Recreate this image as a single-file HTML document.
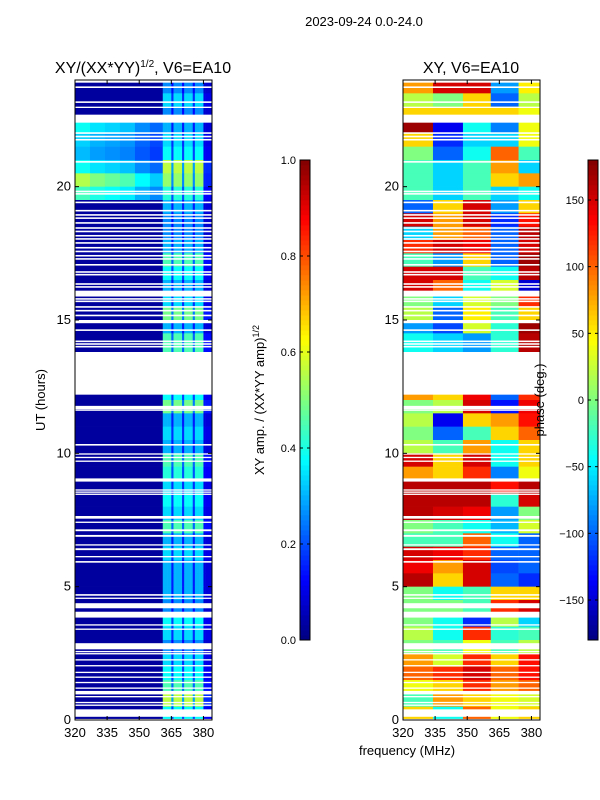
<!DOCTYPE html>
<html><head><meta charset="utf-8"><style>
html,body{margin:0;padding:0;background:#fff;}
svg{display:block;font-family:"Liberation Sans","DejaVu Sans",sans-serif;}
</style></head><body>
<svg id="fig" width="600" height="800" viewBox="0 0 600 800" xmlns="http://www.w3.org/2000/svg">
<text x="364" y="26" font-size="13" text-anchor="middle">2023-09-24 0.0-24.0</text>
<text x="143" y="73" font-size="16" text-anchor="middle">XY/(XX*YY)<tspan font-size="10" dy="-6">1/2</tspan><tspan dy="6">, V6=EA10</tspan></text>
<text x="471" y="73" font-size="16" text-anchor="middle">XY, V6=EA10</text>
<g id="left"></g>
<g id="right"></g>
<g id="cb1"></g>
<g id="cb2"></g>
<g id="axes"></g>
<text transform="translate(45,400) rotate(-90)" font-size="13" text-anchor="middle">UT (hours)</text>
<text x="407" y="755" font-size="13" text-anchor="middle">frequency (MHz)</text>
<text transform="translate(264,400) rotate(-90)" font-size="13" text-anchor="middle">XY amp. / (XX*YY amp)<tspan font-size="9" dy="-5">1/2</tspan></text>
<text transform="translate(544,400) rotate(-90)" font-size="13" text-anchor="middle">phase (deg.)</text>
</svg>
<script>
// ---- data (rows listed from top: 24h downward, 0.5 h each) ----
const rowHours = 0.5;
const lowBandEdges = [320,327,334,341,348,355,361];
const lowShape = [1.1,1.0,0.95,0.9,0.75,0.65];
const lowRow = [0.03,0.03,0.03,0.35,0.3,0.28,0.35,0.5,0.4,0.03,0.03,0.03,0.03,0.03,0.03,0.03,0.03,0.03,0.03,0.03,0.03,0.03,0.03,0.03,
0.03,0.03,0.03,0.03,0.03,0.03,0.03,0.03,0.03,0.03,0.03,0.03,0.03,0.03,0.03,0.03,0.03,0.03,0.03,0.03,0.03,0.03,0.03,0.03];
const hiRow = [0.26,0.34,0.26,0.3,0.34,0.38,0.56,0.52,0.41,0.3,0.26,0.26,0.3,0.45,0.38,0.3,0.34,0.49,0.3,0.45,0.45,0,0,0.38,
0.49,0.3,0.34,0.3,0.45,0.41,0.34,0.38,0.34,0.45,0.3,0.34,0.3,0.3,0.3,0.26,0.38,0.34,0.26,0.34,0.38,0.45,0.56,0.38];
const hiChanStart = 361;
const hiChanWeight = [1,1,1,1,0.5,1,1,1,1,0.5,1,1,1,1,0.5,1,1,1,1,0.3,0.3,0.3,0.3];
const phaseBandEdges = [320,334,348,361,374,384];
const phaseRows = [
[80,150,150,-80,50],[20,0,60,-100,20],[60,60,60,60,40],[170,-140,-40,-90,40],[60,-120,-60,-60,40],[0,-100,-40,100,-20],
[-20,-60,-20,80,-60],[-20,-60,-20,60,80],[-20,-60,-20,-60,-40],[-100,60,150,-80,60],[150,80,150,-120,130],[-60,80,100,-100,160],
[120,150,140,-100,150],[-20,-80,60,-100,170],[150,150,-20,-40,160],[150,100,-40,30,-150],[0,-60,30,0,120],[20,-100,50,-20,60],
[-80,-110,30,-30,170],[-40,-60,-80,-30,160],[-40,-60,-80,-30,160],[0,0,0,0,0],[0,0,0,0,0],[80,60,140,-100,120],
[0,20,150,-130,140],[20,-140,60,80,130],[0,-100,-20,60,100],[20,-20,80,-40,60],[150,60,150,-40,60],[80,60,120,-90,40],
[160,160,160,130,160],[160,160,160,-30,150],[160,150,140,-80,0],[0,-20,-40,-70,30],[-20,-20,100,-40,-100],[150,140,120,-100,-100],
[140,80,150,-110,-100],[160,60,150,-100,-120],[0,-40,-20,60,60],[0,0,-20,120,150],[0,-40,-120,20,-60],[20,-40,120,-30,-20],
[0,-20,40,-20,20],[80,30,120,60,130],[100,120,150,100,130],[40,60,120,80,100],[-20,80,60,40,30],[60,-40,100,40,60]];
const flagStart = [23.9,23.7,23.14,22.95,22.4,21.98,21.85,21.73,20.9,19.79,19.7,19.38,19.07,18.91,18.79,18.61,18.42,18.29,18.13,18.01,17.86,17.68,17.54,17.38,17.26,17.04,16.77,16.67,16.32,16.21,15.88,15.76,15.67,15.46,15.32,15.14,14.88,14.59,14.17,14.07,13.97,12.2,
11.65,11.6,10.29,9.95,9.82,9.68,8.94,8.6,8.52,8.44,7.55,7.39,7.08,6.87,6.54,6.37,6.1,5.9,4.66,4.54,4.19,3.84,3.54,3.38,2.65,2.54,2.46,2.23,2.01,1.76,1.58,1.38,1.17,0.96,0.85,0.63,0.53,0.12,0];
const flagEnd = [24,23.76,23.2,23.0,22.7,22.04,21.91,21.79,20.96,19.85,19.76,19.44,19.13,18.97,18.85,18.67,18.48,18.35,18.19,18.07,17.92,17.74,17.6,17.44,17.32,17.1,16.83,16.73,16.38,16.27,16.1,15.82,15.73,15.52,15.38,15.2,15.0,14.65,14.23,14.13,14.03,13.8,
11.78,11.64,10.35,10.0,9.87,9.73,9.06,8.65,8.57,8.49,7.65,7.44,7.15,6.94,6.59,6.44,6.15,5.96,4.72,4.59,4.38,4.06,3.59,3.43,2.88,2.59,2.51,2.28,2.06,1.81,1.63,1.43,1.22,1.09,0.9,0.68,0.58,0.4,0.04];
const yTicks = [0,5,10,15,20];
const xTicks = [320,335,350,365,380];
const cb1Ticks = [0.0,0.2,0.4,0.6,0.8,1.0];
const cb1Labels = ["0.0","0.2","0.4","0.6","0.8","1.0"];
const cb2Ticks = [-150,-100,-50,0,50,100,150];
const cb2Labels = ["\u2212150","\u2212100","\u221250","0","50","100","150"];

// ---- helpers ----
const NS = "http://www.w3.org/2000/svg";
const Y0 = 720, Y1 = 80, F0 = 320, F1 = 384;
const panels = [{x0:75,x1:212,id:"left"},{x0:403,x1:540,id:"right"}];
function yOf(t){ return Y0 - (t/24)*(Y0-Y1); }
function xOf(p,f){ return p.x0 + (f-F0)/(F1-F0)*(p.x1-p.x0); }
function jet(v){
  v = Math.max(0,Math.min(1,v));
  const r = Math.max(0,Math.min(1,1.5-Math.abs(4*v-3)));
  const g = Math.max(0,Math.min(1,1.5-Math.abs(4*v-2)));
  const b = Math.max(0,Math.min(1,1.5-Math.abs(4*v-1)));
  return "rgb("+Math.round(r*255)+","+Math.round(g*255)+","+Math.round(b*255)+")";
}
function mk(tag, attrs, parent){
  const e = document.createElementNS(NS, tag);
  for (const k in attrs) e.setAttribute(k, attrs[k]);
  parent.appendChild(e); return e;
}
function rowT(i){ return 24 - (i+1)*rowHours; }

// ---- left amplitude heatmap ----
const gL = document.getElementById("left");
const pL = panels[0];
for (let i=0;i<lowRow.length;i++){
  const t0 = rowT(i), t1 = t0+rowHours;
  for (let j=0;j<lowShape.length;j++){
    const c = mk("rect",{x:xOf(pL,lowBandEdges[j]),y:yOf(t1),width:xOf(pL,lowBandEdges[j+1])-xOf(pL,lowBandEdges[j])+0.3,height:yOf(t0)-yOf(t1)+0.3,fill:jet(lowRow[i]>0.05?lowRow[i]*lowShape[j]:lowRow[i])},gL);
    
    
  }
  for (let k=0;k<hiChanWeight.length;k++){
    const f = hiChanStart+k;
    const v = Math.max(0.03, hiRow[i]*hiChanWeight[k]);
    const c = mk("rect",{x:xOf(pL,f),y:yOf(t1),width:xOf(pL,f+1)-xOf(pL,f)+0.3,height:yOf(t0)-yOf(t1)+0.3,fill:jet(v)},gL);
    
    
  }
}
// ---- right phase heatmap ----
const gR = document.getElementById("right");
const pR = panels[1];
for (let i=0;i<phaseRows.length;i++){
  const t0 = rowT(i), t1 = t0+rowHours;
  for (let j=0;j<phaseRows[i].length;j++){
    const c = mk("rect",{x:xOf(pR,phaseBandEdges[j]),y:yOf(t1),width:xOf(pR,phaseBandEdges[j+1])-xOf(pR,phaseBandEdges[j])+0.3,height:yOf(t0)-yOf(t1)+0.3,fill:jet((phaseRows[i][j]+180)/360)},gR);
    
    
  }
}
// ---- flagged (white) intervals ----
for (const p of panels){
  const g = document.getElementById(p.id);
  for (let k=0;k<flagStart.length;k++){
    const r = mk("rect",{x:p.x0,y:yOf(flagEnd[k]),width:p.x1-p.x0,height:Math.max(1.2,yOf(flagStart[k])-yOf(flagEnd[k])),fill:"#fff"},g);
    
    
  }
}
// ---- axes ----
const gA = document.getElementById("axes");
for (const p of panels){
  const fr = mk("rect",{x:p.x0,y:Y1,width:p.x1-p.x0,height:Y0-Y1,fill:"none",stroke:"#000","stroke-width":1},gA);
  
  
  for (const t of yTicks){
    const y = yOf(t);
    mk("line",{x1:p.x0,x2:p.x0+4,y1:y,y2:y,stroke:"#000"},gA);
    mk("line",{x1:p.x1,x2:p.x1-4,y1:y,y2:y,stroke:"#000"},gA);
    const tx = mk("text",{x:p.x0-4,y:y+4,"font-size":13,"text-anchor":"end"},gA);
    tx.textContent = t;
    
    
  }
  for (const f of xTicks){
    const x = xOf(p,f);
    mk("line",{x1:x,x2:x,y1:Y0,y2:Y0-4,stroke:"#000"},gA);
    mk("line",{x1:x,x2:x,y1:Y1,y2:Y1+4,stroke:"#000"},gA);
    const tx = mk("text",{x:x,y:Y0+17,"font-size":13,"text-anchor":"middle"},gA);
    tx.textContent = f;
    
    
  }
}
// ---- colorbars ----
function colorbar(id, x0, vmin, vmax, ticks, labels){
  const g = document.getElementById(id);
  const top = 160, bot = 640, w = 10, n = 96;
  for (let i=0;i<n;i++){
    const r = mk("rect",{x:x0,y:bot-(i+1)*(bot-top)/n,width:w,height:(bot-top)/n+0.4,fill:jet((i+0.5)/n)},g);
    
    
  }
  mk("rect",{x:x0,y:top,width:w,height:bot-top,fill:"none",stroke:"#000"},g);
  for (let k=0;k<ticks.length;k++){
    const y = bot - (ticks[k]-vmin)/(vmax-vmin)*(bot-top);
    mk("line",{x1:x0,x2:x0+3,y1:y,y2:y,stroke:"#000"},g);
    mk("line",{x1:x0+w,x2:x0+w-3,y1:y,y2:y,stroke:"#000"},g);
    const tx = mk("text",{x:x0-4,y:y+4,"font-size":11,"text-anchor":"end"},g);
    tx.textContent = labels[k];
    
    
  }
}
colorbar("cb1",300,0,1,cb1Ticks,cb1Labels);
colorbar("cb2",588,-180,180,cb2Ticks,cb2Labels);
</script>
</body></html>
